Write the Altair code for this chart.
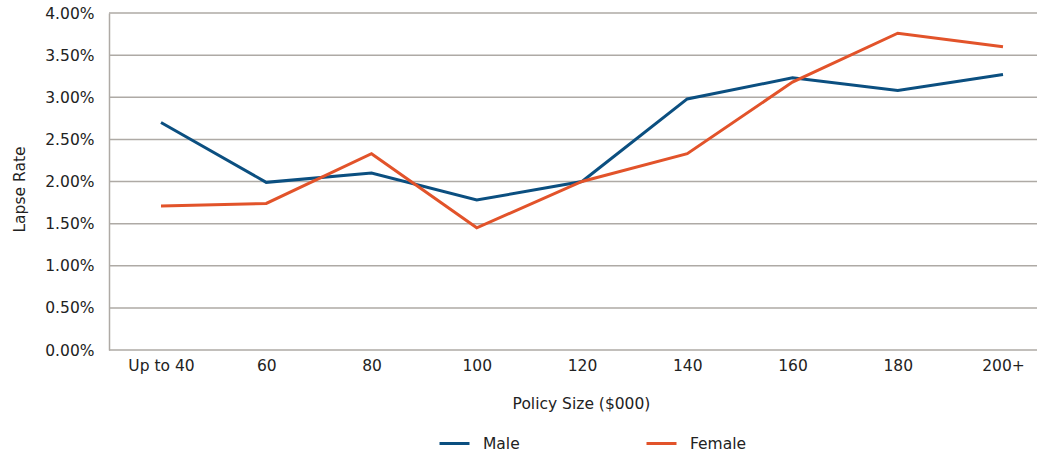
import altair as alt
import pandas as pd

categories = ["Up to 40", "60", "80", "100", "120", "140", "160", "180", "200+"]
male = [0.0270, 0.0199, 0.0210, 0.0178, 0.0200, 0.0298, 0.0323, 0.0308, 0.0327]
female = [0.0171, 0.0174, 0.0233, 0.0145, 0.0200, 0.0233, 0.0318, 0.0376, 0.0360]
series = ["Male", "Female"]
colors = ["#0b4f80", "#e2532a"]
y_ticks = [0.0, 0.005, 0.01, 0.015, 0.02, 0.025, 0.03, 0.035, 0.04]

rows = []
for c, m, f in zip(categories, male, female):
    rows.append({"size": c, "rate": m, "sex": "Male"})
    rows.append({"size": c, "rate": f, "sex": "Female"})
df = pd.DataFrame(rows)
grid_df = pd.DataFrame({"rate": y_ticks})

font = "DejaVu Sans"
grid = "#aeaaa5"
txt = "#222"
fs = 15.5

y_scale = alt.Scale(domain=[0, 0.04])

grid_layer = alt.Chart(grid_df).mark_rule(color=grid, strokeWidth=1.5).encode(
    y=alt.Y("rate:Q", scale=y_scale,
            axis=alt.Axis(title="Lapse Rate", format=".2%", values=y_ticks,
                          ticks=False, domain=True, domainColor=grid, domainWidth=1.5,
                          grid=False, labelPadding=15, titlePadding=17, titleY=176,
                          labelFontSize=fs, titleFontSize=fs, titleFontWeight="normal",
                          labelColor=txt, titleColor=txt)),
    x=alt.value(0),
    x2=alt.value(928),
)

lines = alt.Chart(df).mark_line(strokeWidth=3).encode(
    x=alt.X("size:N", sort=categories,
            scale=alt.Scale(type="point", padding=0, range=[52, 894]),
            axis=alt.Axis(title="Policy Size ($000)", labelAngle=0, ticks=False, domain=False,
                          labelPadding=8, titlePadding=23, titleX=472,
                          labelFontSize=fs, titleFontSize=fs,
                          titleFontWeight="normal", labelColor=txt, titleColor=txt,
                          grid=False)),
    y=alt.Y("rate:Q", scale=y_scale),
    color=alt.Color("sex:N", sort=series, scale=alt.Scale(domain=series, range=colors),
                    legend=alt.Legend(title=None, orient="none", legendX=329, legendY=414,
                                      direction="horizontal", symbolType="stroke",
                                      symbolSize=900, symbolStrokeWidth=3, labelFontSize=fs,
                                      labelColor=txt, labelOffset=12, columnPadding=120)),
)

chart = alt.layer(grid_layer, lines).properties(
    width=928, height=337,
    autosize=alt.AutoSizeParams(type="none"),
    padding={"left": 109, "top": 13, "right": 1, "bottom": 103},
).configure(font=font).configure_view(stroke=None)

chart.save("out.html", embed_options={"renderer": "svg", "actions": False})
